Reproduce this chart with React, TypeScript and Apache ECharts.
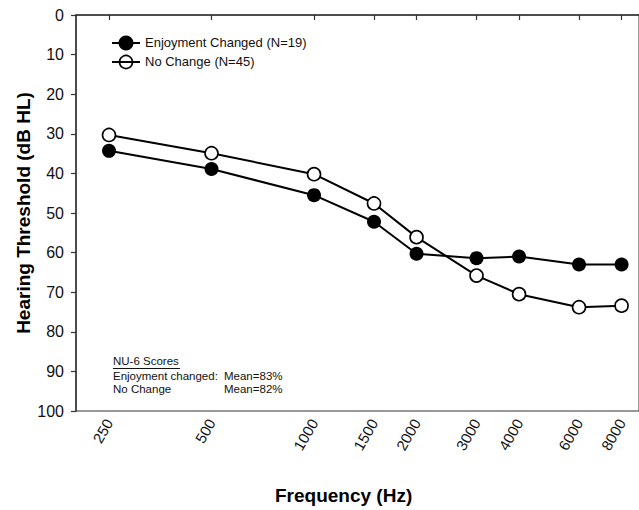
import React, { useEffect, useRef } from "react";
import * as echarts from "echarts";

const frequencies = [250, 500, 1000, 1500, 2000, 3000, 4000, 6000, 8000];
const enjoymentChanged = [34.3, 38.9, 45.5, 52.2, 60.3, 61.4, 61.0, 63.0, 63.0];
const noChange = [30.3, 34.9, 40.2, 47.6, 56.1, 65.8, 70.5, 73.8, 73.4];
const seriesNames = ["Enjoyment Changed (N=19)", "No Change (N=45)"];
const yTicks = [0, 100, 10];
const noteTitle = "NU-6 Scores";
const noteLines = [
  ["Enjoyment changed:", "Mean=83%"],
  ["No Change", "Mean=82%"],
];

const FONT = "'Liberation Sans', Arial, Helvetica, sans-serif";

export default function App() {
  const ref = useRef<HTMLDivElement>(null);
  useEffect(() => {
    document.body.style.margin = "0";
    const chart = echarts.init(ref.current!, null, { renderer: "svg" });
    const pairs = (vals: number[]) => frequencies.map((f, i) => [f, vals[i]]);
    const txt = (text: string, left: number, top: number, size: number) => ({
      type: "text",
      left,
      top,
      style: { text, fontSize: size, fill: "#111", fontFamily: FONT },
    });
    chart.setOption({
      animation: false,
      backgroundColor: "#fff",
      textStyle: { fontFamily: FONT },
      grid: { left: 76, right: -1, top: 15, bottom: 99, show: true, borderColor: "#333", borderWidth: 1 },
      xAxis: {
        type: "log",
        logBase: 10,
        min: 200,
        max: 9000,
        axisLine: { show: true, lineStyle: { color: "#333", width: 1.5 } },
        axisTick: { show: true, customValues: frequencies, length: 5, lineStyle: { color: "#333", width: 1.2 } },
        axisLabel: {
          customValues: frequencies,
          rotate: 60,
          fontSize: 15,
          color: "#111",
          fontFamily: FONT,
          margin: 9,
          formatter: (v: number) => String(Math.round(v)),
        },
        splitLine: { show: false },
        minorTick: { show: false },
      },
      yAxis: {
        type: "value",
        inverse: true,
        min: yTicks[0],
        max: yTicks[1],
        interval: yTicks[2],
        axisLine: { show: true, lineStyle: { color: "#333", width: 1.5 } },
        axisTick: { show: true, length: 5, lineStyle: { color: "#333", width: 1.2 } },
        axisLabel: { fontSize: 16, color: "#111", fontFamily: FONT, margin: 12 },
        splitLine: { show: false },
      },
      series: [
        {
          name: seriesNames[0],
          type: "line",
          data: pairs(enjoymentChanged),
          symbol: "circle",
          symbolSize: 14,
          lineStyle: { color: "#000", width: 2 },
          itemStyle: { color: "#000" },
          z: 3,
        },
        {
          name: seriesNames[1],
          type: "line",
          data: pairs(noChange),
          symbol: "circle",
          symbolSize: 13,
          lineStyle: { color: "#000", width: 2 },
          itemStyle: { color: "#fff", borderColor: "#000", borderWidth: 1.6 },
          z: 4,
        },
      ],
      graphic: [
        // y title
        {
          type: "text",
          x: 23,
          y: 213,
          rotation: Math.PI / 2,
          style: {
            text: "Hearing Threshold (dB HL)",
            fontSize: 19,
            fontWeight: "bold",
            fill: "#000",
            fontFamily: FONT,
            align: "center",
            verticalAlign: "middle",
          },
        },
        // legend
        { type: "line", shape: { x1: 112, y1: 43, x2: 140, y2: 43 }, style: { stroke: "#000", lineWidth: 2 } },
        { type: "circle", shape: { cx: 126, cy: 43, r: 7.5 }, style: { fill: "#000" } },
        txt(seriesNames[0], 145, 36, 13),
        { type: "line", shape: { x1: 112, y1: 62, x2: 140, y2: 62 }, style: { stroke: "#000", lineWidth: 2 } },
        { type: "circle", shape: { cx: 126, cy: 62, r: 6.5 }, style: { fill: "none", stroke: "#000", lineWidth: 1.6 } },
        txt(seriesNames[1], 145, 55, 13),
        // note
        txt(noteTitle, 113, 355, 11.5),
        { type: "line", shape: { x1: 113, y1: 368.5, x2: 180, y2: 368.5 }, style: { stroke: "#111", lineWidth: 1 } },
        txt(noteLines[0][0], 113, 369.5, 11.5),
        txt(noteLines[0][1], 224, 369.5, 11.5),
        txt(noteLines[1][0], 113, 383, 11.5),
        txt(noteLines[1][1], 224, 383, 11.5),
        // x title
        { type: "text", left: 275, top: 486, style: { text: "Frequency (Hz)", fontSize: 19, fontWeight: "bold", fill: "#000", fontFamily: FONT } },
      ],
    });
    return () => chart.dispose();
  }, []);
  return <div ref={ref} style={{ width: 639, height: 510 }} />;
}
